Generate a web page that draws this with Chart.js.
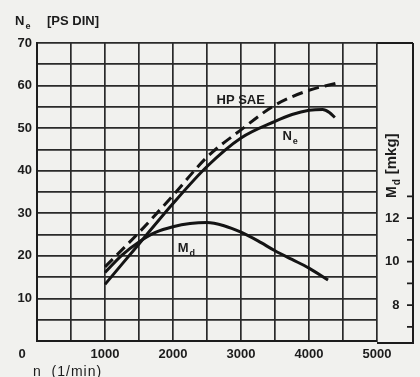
<!DOCTYPE html>
<html>
<head>
<meta charset="utf-8">
<script src="https://cdn.jsdelivr.net/npm/chart.js@4/dist/chart.umd.min.js"></script>
<style>
html,body{margin:0;padding:0;background:#f1f1ee;}
canvas{display:block;}
</style>
</head>
<body>
<canvas id="c" width="420" height="377"></canvas>
<script>
// ---- data ----
const xTickValues = [0, 500, 1000, 1500, 2000, 2500, 3000, 3500, 4000, 4500, 5000];
const xTickLabels = ['', '', '1000', '', '2000', '', '3000', '', '4000', '', '5000'];
const yTickLabels = [10, 20, 30, 40, 50, 60, 70];
const mdTickValues = [7, 8, 9, 10, 11, 12, 13];
const mdTickLabels = [8, 10, 12];

const saeRpm = [1000, 1500, 2000, 2500, 3000, 3500, 4000, 4420];
const saeVal = [17.4, 25.5, 34.2, 43.2, 49.6, 55.4, 58.9, 60.6];

const neRpm = [1000, 1500, 2000, 2500, 3000, 3500, 3750, 4000, 4200, 4300, 4380];
const neVal = [13.3, 22.8, 32.3, 41.0, 47.7, 51.6, 53.2, 54.2, 54.4, 53.7, 52.5];

const mdRpm = [1000, 1250, 1500, 1750, 2000, 2250, 2500, 2750, 3000, 3250, 3500, 3750, 4000, 4280];
const mdVal = [9.5, 10.3, 10.9, 11.35, 11.6, 11.75, 11.8, 11.65, 11.35, 10.95, 10.5, 10.1, 9.7, 9.15];

// ---- styling ----
const FAM = '"Liberation Sans", Arial, sans-serif';
const INK = '#1c1c1c';
const GRID = '#2a2a2a';

function pts(xs, ys) { return xs.map((x, i) => ({ x: x, y: ys[i] })); }

function drawSub(ctx, x, y, main, sub, size) {
  ctx.font = 'bold ' + size + 'px ' + FAM;
  ctx.fillText(main, x, y);
  const w = ctx.measureText(main).width;
  ctx.font = 'bold ' + Math.round(size * 0.72) + 'px ' + FAM;
  ctx.fillText(sub, x + w + 1, y + size * 0.3);
  return w + 1 + ctx.measureText(sub).width;
}

const bgPlugin = {
  id: 'bg',
  beforeDraw(chart) {
    const ctx = chart.ctx;
    ctx.save();
    ctx.fillStyle = '#f1f1ee';
    ctx.fillRect(0, 0, chart.width, chart.height);
    ctx.restore();
  }
};

const decoPlugin = {
  id: 'deco',
  afterDraw(chart) {
    const ctx = chart.ctx;
    const a = chart.chartArea;
    const sx = chart.scales.x, sy = chart.scales.y, s2 = chart.scales.y2;
    const R = s2.right;
    ctx.save();
    ctx.strokeStyle = INK;
    ctx.lineWidth = 2;
    ctx.beginPath();
    ctx.moveTo(a.right, a.top); ctx.lineTo(R, a.top);
    ctx.moveTo(R, a.top); ctx.lineTo(R, a.bottom + 3);
    ctx.moveTo(a.right, a.bottom + 2); ctx.lineTo(R, a.bottom + 2);
    ctx.stroke();
    ctx.lineWidth = 1.6;
    ctx.beginPath();
    mdTickValues.forEach(v => {
      const y = s2.getPixelForValue(v);
      ctx.moveTo(R - 6, y); ctx.lineTo(R, y);
    });
    ctx.stroke();

    ctx.fillStyle = INK;
    ctx.textBaseline = 'alphabetic';
    ctx.textAlign = 'left';
    // top-left title
    let w = drawSub(ctx, 15, 25, 'N', 'e', 13);
    ctx.font = 'bold 13px ' + FAM;
    ctx.fillText('[PS DIN]', 47, 25);

    // origin label and x title
    ctx.textAlign = 'center';
    ctx.font = 'bold 13px ' + FAM;
    ctx.fillText('0', 22, 358);
    ctx.textAlign = 'left';
    ctx.font = '14px ' + FAM;
    ctx.letterSpacing = '1px';
    ctx.fillText('n  (1/min)', 33, 376);
    ctx.letterSpacing = '0px';

    // curve labels
    ctx.font = 'bold 13px ' + FAM;
    ctx.fillText('HP SAE', sx.getPixelForValue(2640), sy.getPixelForValue(55.6));
    drawSub(ctx, sx.getPixelForValue(3610), sy.getPixelForValue(47.3), 'N', 'e', 13);
    drawSub(ctx, sx.getPixelForValue(2070), s2.getPixelForValue(10.45), 'M', 'd', 13);

    // right axis title, rotated
    ctx.save();
    ctx.translate(396, 198);
    ctx.rotate(-Math.PI / 2);
    ctx.textAlign = 'left';
    w = drawSub(ctx, 0, 0, 'M', 'd', 14);
    ctx.font = 'bold 15px ' + FAM;
    ctx.fillText('[mkg]', w + 5, 0);
    ctx.restore();
    ctx.restore();
  }
};

const tickFont = { family: FAM, size: 13, weight: 'bold' };

new Chart(document.getElementById('c'), {
  type: 'line',
  data: {
    datasets: [
      {
        label: 'HP SAE', data: pts(saeRpm, saeVal), yAxisID: 'y',
        borderColor: '#141414', borderWidth: 3, borderDash: [11, 6],
        pointRadius: 0, tension: 0.4, cubicInterpolationMode: 'monotone', fill: false
      },
      {
        label: 'Ne', data: pts(neRpm, neVal), yAxisID: 'y',
        borderColor: '#141414', borderWidth: 3,
        pointRadius: 0, tension: 0.4, cubicInterpolationMode: 'monotone', fill: false
      },
      {
        label: 'Md', data: pts(mdRpm, mdVal), yAxisID: 'y2',
        borderColor: '#141414', borderWidth: 3,
        pointRadius: 0, tension: 0.4, cubicInterpolationMode: 'monotone', fill: false
      }
    ]
  },
  options: {
    responsive: false,
    animation: false,
    layout: { padding: { top: 43, right: 7, left: 0, bottom: 0 } },
    plugins: { legend: { display: false }, tooltip: { enabled: false } },
    scales: {
      x: {
        type: 'linear', min: 0, max: 5000,
        afterBuildTicks: s => { s.ticks = xTickValues.map(v => ({ value: v })); },
        afterFit: s => { s.height = 36; },
        grid: { color: GRID, lineWidth: 1.7, drawTicks: false },
        border: { color: INK, width: 2 },
        ticks: {
          autoSkip: false, maxRotation: 0, padding: 6, color: INK, font: tickFont,
          callback: (v) => { const i = xTickValues.indexOf(v); return i >= 0 ? xTickLabels[i] : ''; }
        }
      },
      y: {
        type: 'linear', position: 'left', min: 0, max: 70,
        ticks: {
          stepSize: 5, padding: 5, color: INK, font: tickFont,
          callback: (v) => yTickLabels.includes(v) ? String(v) : ''
        },
        afterFit: s => { s.width = 37; },
        grid: { color: GRID, lineWidth: 1.7, drawTicks: false },
        border: { color: INK, width: 2 }
      },
      y2: {
        type: 'linear', position: 'right', min: 6.35, max: 20.05,
        afterBuildTicks: s => { s.ticks = mdTickValues.map(v => ({ value: v })); },
        afterFit: s => { s.width = 36; },
        grid: { drawOnChartArea: false, drawTicks: false },
        border: { display: false },
        ticks: {
          crossAlign: 'near', padding: 8, color: INK, font: tickFont,
          callback: (v) => mdTickLabels.includes(v) ? (v < 10 ? '\u2007' + v : String(v)) : ''
        }
      }
    }
  },
  plugins: [bgPlugin, decoPlugin]
});
</script>
</body>
</html>
